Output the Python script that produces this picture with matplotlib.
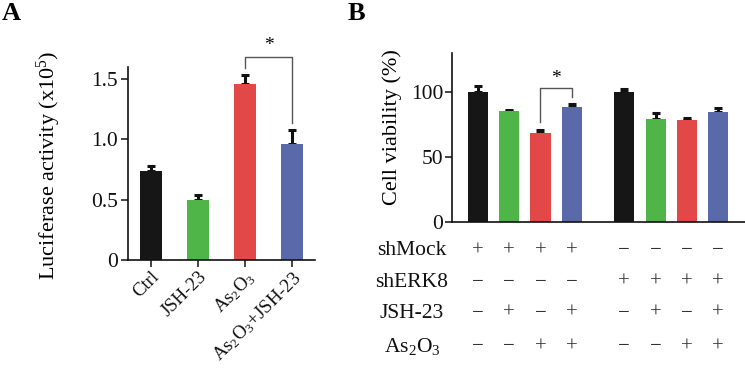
import matplotlib
matplotlib.use("Agg")
import matplotlib.pyplot as plt
import matplotlib.transforms as mtransforms

plt.rcParams['font.family'] = ['Liberation Serif', 'DejaVu Serif']
plt.rcParams['mathtext.fontset'] = 'custom'
plt.rcParams['mathtext.rm'] = 'Liberation Serif'
plt.rcParams['mathtext.it'] = 'Liberation Serif:italic'
plt.rcParams['mathtext.bf'] = 'Liberation Serif:bold'

# ---------- data ----------
a_labels = ['Ctrl', 'JSH-23', r'As$_2$O$_3$', r'As$_2$O$_3$+JSH-23']
a_values = [0.736, 0.50, 1.458, 0.958]
a_errors = [0.04, 0.04, 0.075, 0.12]

b_values = [99.9, 85.3, 68.3, 88.4, 100.1, 79.0, 78.5, 84.9]
b_errors = [4.9, 1.2, 2.8, 2.5, 2.6, 5.2, 1.9, 2.6]
b_rows = ['shMock', 'shERK8', 'JSH-23', r'As$_2$O$_3$']
b_table = [
    ['+', '+', '+', '+', '−', '−', '−', '−'],
    ['−', '−', '−', '−', '+', '+', '+', '+'],
    ['−', '+', '−', '+', '−', '+', '−', '+'],
    ['−', '−', '+', '+', '−', '−', '+', '+'],
]
a_yticks = [0, 0.5, 1.0, 1.5]
a_yticklabels = ['0', '0.5', '1.0', '1.5']
b_yticks = [0, 50, 100]

colors = ['#161616', '#4fb548', '#e34848', '#5a69a9']
b_colors = colors + colors

W, H = 745, 370
fig = plt.figure(figsize=(W / 100, H / 100), dpi=100)

def style_axes(ax):
    for s in ['top', 'right']:
        ax.spines[s].set_visible(False)
    for s in ['left', 'bottom']:
        ax.spines[s].set_linewidth(1.2)
        ax.spines[s].set_color('#111111')
    ax.tick_params(axis='both', direction='out', length=5, width=1.1,
                   labelsize=15.5, pad=2, colors='#111111')

# ---------- Panel A ----------
axA = fig.add_axes([128 / W, 1 - 260 / H, 187 / W, (260 - 67) / H])
xa = list(range(len(a_values)))
axA.bar(xa, a_values, width=0.47, color=colors, zorder=2)
axA.errorbar(xa, a_values, yerr=[[0] * len(a_values), a_errors], fmt='none',
             ecolor='#111111', elinewidth=2.2, capsize=3.2, capthick=2.2, zorder=1)
axA.set_xlim(-0.49, 3.49)
axA.set_ylim(0, 1.6)
axA.set_yticks(a_yticks)
axA.set_yticklabels(a_yticklabels)
axA.set_xticks(xa)
axA.set_xticklabels(a_labels, rotation=45, ha='right', rotation_mode='anchor')
style_axes(axA)
axA.tick_params(axis='x', labelsize=13.5, pad=1)
axA.set_ylabel(r'Luciferase activity (x10$^5$)', fontsize=16)
axA.yaxis.set_label_coords(-0.35, 0.49)

# significance bracket A
i, j = 2, 3
yl = a_values[i] + a_errors[i] + 0.06
yr = a_values[j] + a_errors[j] + 0.06
ytop = 1.686
axA.plot([i, i, j, j], [yl, ytop, ytop, yr], color='#555555', lw=1.0,
         clip_on=False, zorder=3)
axA.text((i + j) / 2, ytop + 0.02, '*', ha='center', va='bottom', fontsize=14,
         clip_on=False)

# ---------- Panel B ----------
axB = fig.add_axes([451.7 / W, 1 - 221.7 / H, (W - 451.7) / W, (221.7 - 53.3) / H])
xb = [0, 1, 2, 3, 4.67, 5.67, 6.67, 7.67]
axB.bar(xb, b_values, width=0.64, color=b_colors, zorder=2)
axB.errorbar(xb, b_values, yerr=[[0] * len(b_values), b_errors], fmt='none',
             ecolor='#111111', elinewidth=2.2, capsize=3.2, capthick=2.2, zorder=1)
axB.set_xlim(-0.83, 8.52)
axB.set_ylim(0, 130)
axB.set_yticks(b_yticks)
axB.set_xticks([])
style_axes(axB)
axB.tick_params(axis='y', pad=1)
axB.set_ylabel('Cell viability (%)', fontsize=16)
axB.yaxis.set_label_coords(-0.17, 0.56)

# significance bracket B
i, j = 2, 3
yl = b_values[i] + b_errors[i] + 6
yr = b_values[j] + b_errors[j] + 5
ytop = 103
axB.plot([xb[i], xb[i], xb[j], xb[j]], [yl, ytop, ytop, yr], color='#555555',
         lw=1.0, clip_on=False, zorder=3)
axB.text((xb[i] + xb[j]) / 2, ytop + 1, '*', ha='center', va='bottom',
         fontsize=14, clip_on=False)

# condition table under panel B
row_y = [250.7, 282.3, 313.3, 346.7]
trans = mtransforms.blended_transform_factory(axB.transData, fig.transFigure)
for r, (name, yy) in enumerate(zip(b_rows, row_y)):
    fy = 1 - yy / H
    fig.text(412 / W, fy, name, ha='center', va='center', fontsize=15.5,
             color='#111111')
    for k, sym in enumerate(b_table[r]):
        axB.text(xb[k], fy, sym, transform=trans, ha='center', va='center',
                 fontsize=15, color='#333333', clip_on=False)

# panel letters
fig.text(2 / W, 1 - 20 / H, 'A', fontsize=19, fontweight='bold', va='baseline')
fig.text(348 / W, 1 - 20 / H, 'B', fontsize=19, fontweight='bold', va='baseline')

fig.savefig('out.png', dpi=100)
